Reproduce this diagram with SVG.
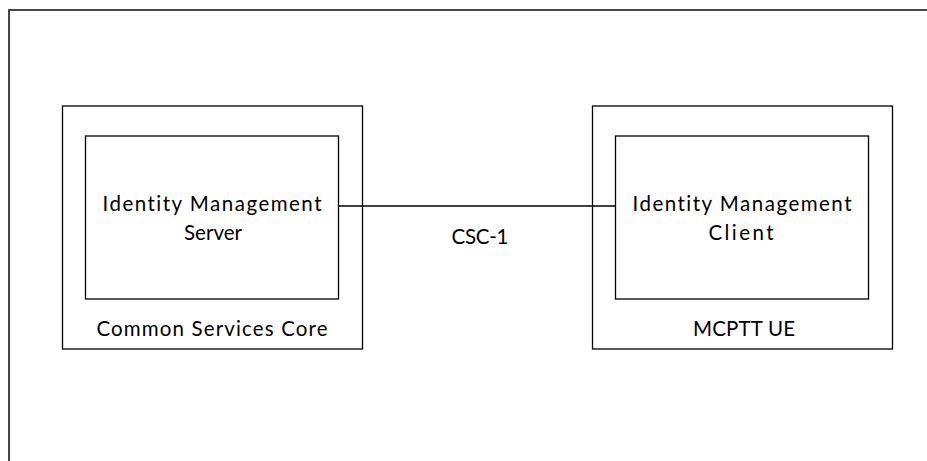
<svg xmlns="http://www.w3.org/2000/svg" width="927" height="461" viewBox="0 0 927 461">
<style>
.box{fill:#fff;stroke:#000;stroke-width:1.3}
.frame{fill:#fff;stroke:#1a1a1a;stroke-width:1.6}
.t{font-family:Lato,"Open Sans","Liberation Sans",sans-serif;font-size:20.5px;fill:#000;text-anchor:middle;font-variant-ligatures:none;font-feature-settings:"liga" 0}
.conn{stroke:#000;stroke-width:1.3;fill:none}
</style>
<rect class="frame" x="9" y="10" width="930" height="460"/>
<g id="common-services-core">
<rect class="box" x="62.5" y="106" width="300" height="243"/>
<text class="t" x="212" y="336" textLength="231" lengthAdjust="spacing">Common Services Core</text>
</g>
<g id="idm-server">
<rect class="box" x="85.5" y="136" width="253" height="163"/>
<text class="t" x="212" y="211" textLength="219" lengthAdjust="spacing">Identity Management</text>
<text class="t" x="213" y="240">Server</text>
</g>
<g id="mcptt-ue">
<rect class="box" x="592.5" y="106" width="300" height="243"/>
<text class="t" x="744" y="336" textLength="102" lengthAdjust="spacing">MCPTT UE</text>
</g>
<g id="idm-client">
<rect class="box" x="615.5" y="136" width="253" height="163"/>
<text class="t" x="742" y="211" textLength="219" lengthAdjust="spacing">Identity Management</text>
<text class="t" x="741" y="240" textLength="65" lengthAdjust="spacing">Client</text>
</g>
<g id="connectors">
<line class="conn" x1="338.5" y1="206" x2="615.5" y2="206"/>
<text class="t" x="480" y="244" textLength="57" lengthAdjust="spacing">CSC-1</text>
</g>
</svg>
